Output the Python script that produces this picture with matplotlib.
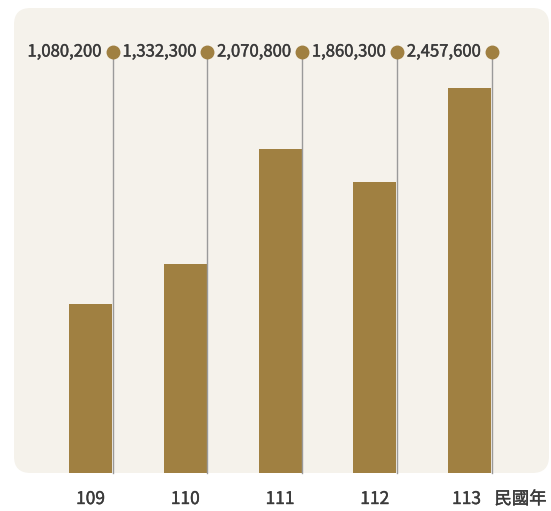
import matplotlib.pyplot as plt
from matplotlib.patches import FancyBboxPatch
import matplotlib.patheffects as pe
import matplotlib.transforms as mtransforms

plt.rcParams['font.family'] = ['Noto Sans CJK TC', 'DejaVu Sans']

years = ['109', '110', '111', '112', '113']
values = [1080200, 1332300, 2070800, 1860300, 2457600]
unit_label = '民國年'

bar_color = '#a08041'
bg_color = '#f5f2eb'
text_color = '#3a3a3a'
line_color = '#9a9a9a'

W, H = 551, 511
fig = plt.figure(figsize=(W / 100, H / 100), dpi=100)
fig.patch.set_facecolor('white')

# rounded panel behind the bars
panel = FancyBboxPatch((14 / W, (H - 473) / H), 535 / W, 465 / H,
                       boxstyle='round,pad=0,rounding_size=0.03',
                       transform=fig.transFigure, facecolor=bg_color,
                       edgecolor='none', zorder=-5, mutation_aspect=W / H)
fig.patches.append(panel)

ax = fig.add_axes([14 / W, (H - 473) / H, 535 / W, 465 / H])
ax.set_zorder(1)
ax.set_facecolor('none')
for s in ax.spines.values():
    s.set_visible(False)
ax.set_xticks([])
ax.set_yticks([])

spacing = 94.75
x = list(range(len(years)))
ax.set_xlim((14 - 90.5) / spacing, (549 - 90.5) / spacing)
ax.set_ylim(0, 465 / 1.565e-4)

bw = 43 / spacing
ax.bar(x, values, width=bw, color=bar_color, zorder=2)

# slightly heavier strokes than the regular face
thick = [pe.withStroke(linewidth=0.3, foreground=text_color)]

trans = mtransforms.blended_transform_factory(ax.transData, ax.transAxes)
dot_y = (473 - 52) / 465
for xi, v in zip(x, values):
    xr = xi + bw / 2 + 0.5 / spacing
    ax.plot([xr, xr], [0, dot_y], transform=trans, color=line_color,
            lw=1, zorder=3, clip_on=False)
    ax.plot([xr], [dot_y], transform=trans, marker='o', ms=9,
            color=bar_color, zorder=4, clip_on=False)
    ax.annotate(f'{v:,}', xy=(xr, dot_y), xycoords=trans,
                xytext=(-7.5, 0), textcoords='offset points',
                ha='right', va='center', fontsize=12, color=text_color,
                path_effects=thick)

label_y = -26 / 465
for xi, yr in zip(x, years):
    nudge = -3 / spacing if xi == x[-1] else 0
    ax.text(xi + nudge, label_y, yr, transform=trans, ha='center',
            va='center', fontsize=12.5, color=text_color, path_effects=thick)
ax.text(4 + 25 / spacing, label_y, unit_label, transform=trans,
        ha='left', va='center', fontsize=12.5, color=text_color,
        path_effects=thick)

fig.savefig('out.png', dpi=100)
